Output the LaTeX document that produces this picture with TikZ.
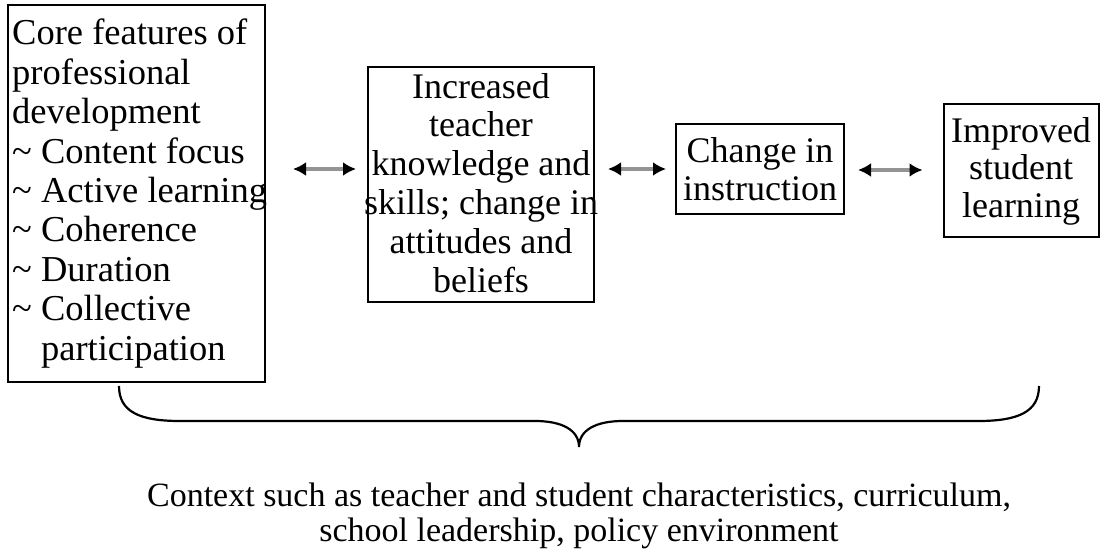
\documentclass[tikz,border=0pt]{standalone}
\usepackage{fontspec}
\setmainfont{Liberation Serif}
\usetikzlibrary{arrows.meta}
\begin{document}
\begin{tikzpicture}[x=1pt,y=-1pt,
  box/.style={draw=black,line width=2pt,inner sep=0pt,rectangle},
  txt/.style={inner sep=0pt,font=\fontsize{36}{38.8}\selectfont},
  dbl/.style={draw=black!42,line width=3.2pt,
    {Latex[length=13pt,width=14pt,black]}-{Latex[length=13pt,width=14pt,black]}},
  brace/.style={draw=black,line width=2.2pt}
]
\useasboundingbox (0,0) rectangle (1104,556);
% boxes
\node[box,minimum width=257pt,minimum height=377pt] (b1) at (136.5,193.5) {};
\node[box,minimum width=226pt,minimum height=235pt] (b2) at (481,184.5) {};
\node[box,minimum width=168pt,minimum height=90pt] (b3) at (760,169) {};
\node[box,minimum width=155pt,minimum height=133pt] (b4) at (1021,170.5) {};
% texts
\node[txt,anchor=north west,align=left,font=\fontsize{36.5}{39.4}\selectfont] (t1) at (12,19) {Core features of\\professional\\development\\\textasciitilde\ Content focus\\\textasciitilde\ Active learning\\\textasciitilde\ Coherence\\\textasciitilde\ Duration\\\textasciitilde\ Collective\\\phantom{\textasciitilde\ }participation};
\node[txt,anchor=north,align=center] (t2) at (481,73) {Increased\\teacher\\knowledge and\\skills; change in\\attitudes and\\beliefs};
\node[txt,anchor=north,align=center,font=\fontsize{36}{38}\selectfont] (t3) at (760,137) {Change in\\instruction};
\node[txt,anchor=north,align=center,font=\fontsize{36}{37.5}\selectfont] (t4) at (1021,117) {Improved\\student\\learning};
\node[txt,anchor=north,align=center,font=\fontsize{34}{35}\selectfont] (ctx) at (579,483) {Context such as teacher and student characteristics, curriculum,\\school leadership, policy environment};
% arrows
\draw[dbl,shorten <=27pt,shorten >=11pt] (b1.east |- 0,169) -- (b2.west |- 0,169);
\draw[dbl,shorten <=13pt,shorten >=9pt] (b2.east |- 0,169) -- (b3.west |- 0,169);
\draw[dbl,shorten <=13pt,shorten >=20pt] (b3.east |- 0,170) -- (b4.west |- 0,170);
% brace
\coordinate (bl) at (119,386);
\coordinate (br) at (1039,386);
\coordinate (tip) at (579,447);
\draw[brace] (bl) .. controls (119,412) and (140,421) .. (180,421) -- (535,421)
  .. controls (562,421) and (579,430) .. (tip)
  .. controls (579,430) and (596,421) .. (623,421) -- (978,421)
  .. controls (1018,421) and (1039,412) .. (br);
\end{tikzpicture}
\end{document}
